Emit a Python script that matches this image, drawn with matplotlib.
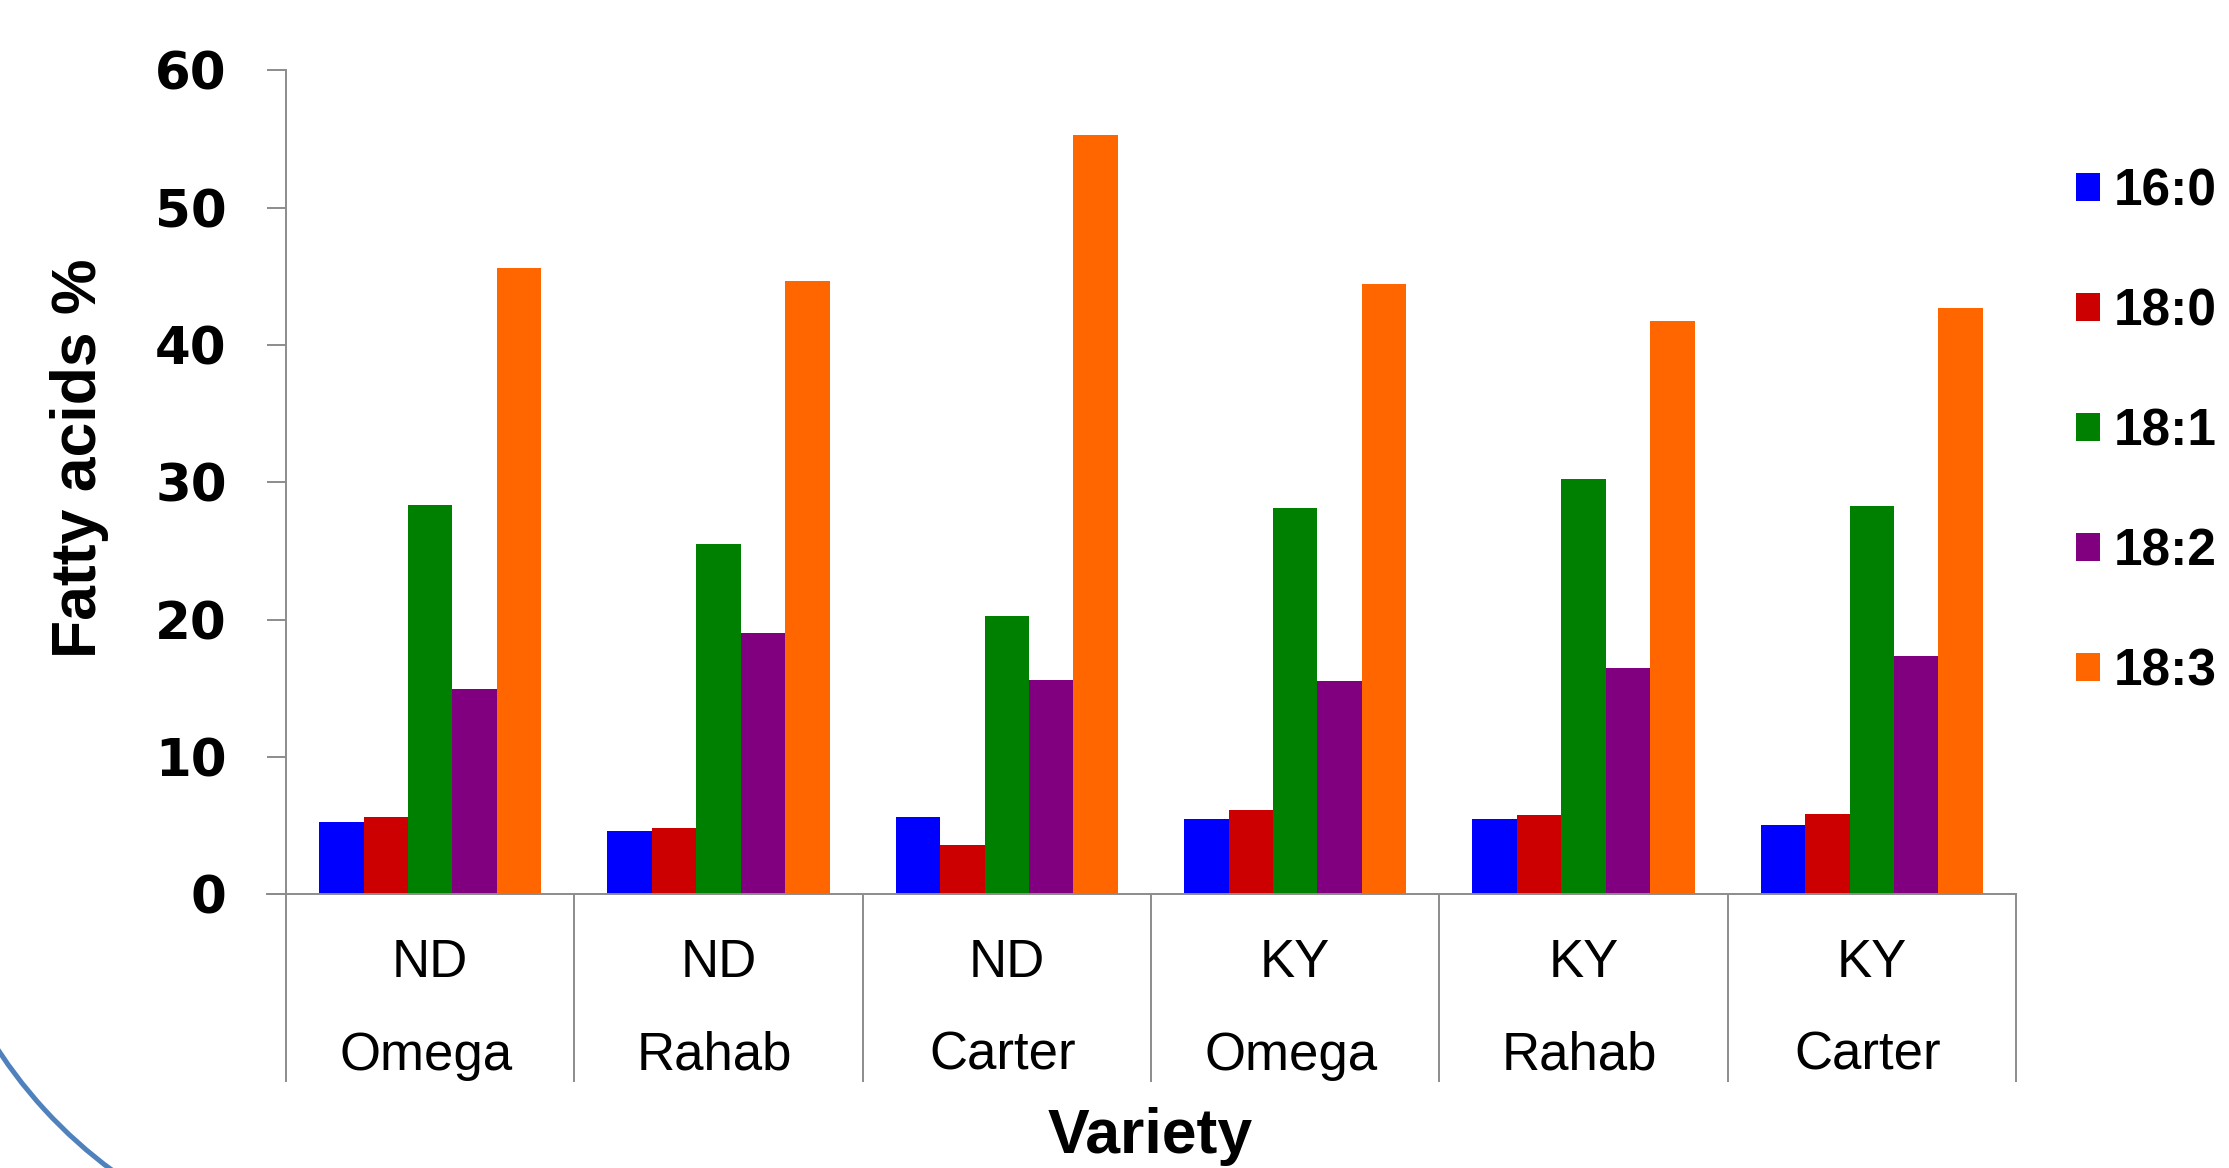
import matplotlib
matplotlib.use("Agg")
import matplotlib.pyplot as plt
from matplotlib.patches import Patch, Arc
import numpy as np

# Fatty acid composition (%) by location and variety
locations = ["ND", "ND", "ND", "KY", "KY", "KY"]
varieties = ["Omega", "Rahab", "Carter", "Omega", "Rahab", "Carter"]
series_names = ["16:0", "18:0", "18:1", "18:2", "18:3"]
fa_16_0 = [5.25, 4.62, 5.66, 5.47, 5.47, 5.06]
fa_18_0 = [5.66, 4.84, 3.57, 6.14, 5.77, 5.85]
fa_18_1 = [28.33, 25.54, 20.25, 28.15, 30.27, 28.26]
fa_18_2 = [14.97, 19.06, 15.64, 15.56, 16.46, 17.35]
fa_18_3 = [45.60, 44.68, 55.29, 44.45, 41.77, 42.67]
series_colors = ["#0000FF", "#CC0000", "#008000", "#800080", "#FF6600"]
y_ticks = [0, 10, 20, 30, 40, 50, 60]

series_values = [fa_16_0, fa_18_0, fa_18_1, fa_18_2, fa_18_3]

W, H = 2229, 1168
fig = plt.figure(figsize=(W / 100, H / 100), dpi=100)
fig.patch.set_facecolor("white")

# Decorative blue arc in the lower-left corner
deco = fig.add_axes([0, 0, 1, 1])
deco.set_xlim(0, W)
deco.set_ylim(0, H)
deco.axis("off")
deco.add_patch(Arc((391, 376), 940, 940, theta1=200, theta2=245,
                   color="#4F81BD", lw=3.6))

axis_gray = "#8C8C8C"
ax = fig.add_axes([286 / W, 273.7 / H, 1730 / W, 824 / H])
ax.set_facecolor("none")

n = len(varieties)
x = np.arange(n)
bar_w = 0.154
for k, (vals, col, name) in enumerate(zip(series_values, series_colors, series_names)):
    ax.bar(x + (k - 2) * bar_w, vals, width=bar_w, color=col, label=name,
           linewidth=0, zorder=2)

ax.set_xlim(-0.5, n - 0.5)
ax.set_ylim(0, 60)

# y axis
ax.set_yticks(y_ticks)
ax.set_yticklabels([str(t) for t in y_ticks], fontsize=37,
                   fontweight="bold", family="DejaVu Sans")
ax.tick_params(axis="y", direction="out", length=13.7, width=1.4,
               color=axis_gray, pad=29)

# x axis: category separators as long outward ticks, labels drawn as text
ax.set_xticks(np.arange(n + 1) - 0.5)
ax.set_xticklabels([])
ax.tick_params(axis="x", direction="out", length=135, width=1.4,
               color=axis_gray)

for side in ["top", "right"]:
    ax.spines[side].set_visible(False)
for side in ["left", "bottom"]:
    ax.spines[side].set_color(axis_gray)
    ax.spines[side].set_linewidth(1.4)
ax.spines["bottom"].set_bounds(-0.5 - 19 / 288, n - 0.5)

tr = ax.get_xaxis_transform()
for i in range(n):
    ax.text(x[i], -0.1004, locations[i], transform=tr, ha="center",
            va="baseline", fontsize=38, family="Liberation Sans")
    ax.text(x[i] - 0.015, -0.2132, varieties[i], transform=tr, ha="center",
            va="baseline", fontsize=38, family="Liberation Sans")

fig.text(80 / W, 1 - 458 / H, "Fatty acids %", rotation=90, ha="center",
         va="center", fontsize=45, fontweight="bold", family="Liberation Sans")
fig.text(1150 / W, 15 / H, "Variety", ha="center", va="baseline",
         fontsize=45, fontweight="bold", family="Liberation Sans")

handles = [Patch(facecolor=c, edgecolor="none") for c in series_colors]
fig.legend(handles, series_names, loc="center left",
           bbox_to_anchor=(2076 / W, 1 - 432 / H), frameon=False,
           prop={"family": "Liberation Sans", "weight": "bold", "size": 37},
           handlelength=0.46, handleheight=0.46, handletextpad=0.27,
           labelspacing=1.38, borderpad=0, borderaxespad=0)

fig.savefig("out.png", dpi=100, facecolor="white")
